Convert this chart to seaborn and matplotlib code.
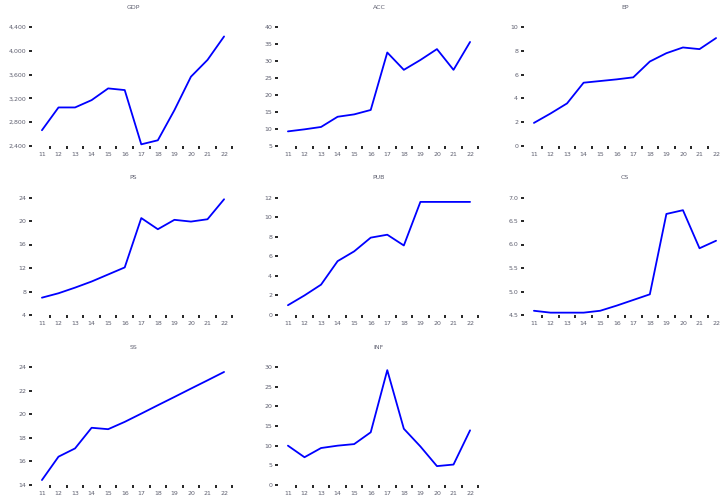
import numpy as np
import pandas as pd
import matplotlib
matplotlib.use("Agg")
import matplotlib.pyplot as plt
import seaborn as sns

sns.set_style("white")
plt.rcParams['font.family'] = ['DejaVu Sans']

years = ["11", "12", "13", "14", "15", "16", "17", "18", "19", "20", "21", "22"]

gdp = [2665, 3048, 3048, 3171, 3368, 3340, 2428, 2496, 3002, 3565, 3847, 4241]
acc = [9.3, 9.9, 10.6, 13.6, 14.3, 15.6, 32.5, 27.4, 30.3, 33.5, 27.4, 35.6]
ep = [1.94, 2.73, 3.58, 5.32, 5.46, 5.60, 5.77, 7.10, 7.80, 8.28, 8.14, 9.07]
ps = [6.95, 7.7, 8.66, 9.7, 10.9, 12.1, 20.5, 18.6, 20.2, 19.9, 20.3, 23.7]
pub = [1.0, 2.0, 3.1, 5.5, 6.5, 7.9, 8.2, 7.1, 11.55, 11.55, 11.55, 11.55]
cs = [4.59, 4.55, 4.55, 4.55, 4.59, 4.70, 4.82, 4.94, 6.65, 6.73, 5.92, 6.08]
ss = [14.42, 16.4, 17.1, 18.85, 18.73, 19.35, 20.05, 20.76, 21.46, 22.17, 22.87, 23.58]
inf = [10.0, 7.06, 9.4, 10.0, 10.4, 13.4, 29.2, 14.3, 9.8, 4.8, 5.2, 13.9]

panels = [
    ("GDP", gdp, [2400, 2800, 3200, 3600, 4000, 4400], "{:,.0f}"),
    ("ACC", acc, [5, 10, 15, 20, 25, 30, 35, 40], "{:.0f}"),
    ("EP", ep, [0, 2, 4, 6, 8, 10], "{:.0f}"),
    ("PS", ps, [4, 8, 12, 16, 20, 24], "{:.0f}"),
    ("PUB", pub, [0, 2, 4, 6, 8, 10, 12], "{:.0f}"),
    ("CS", cs, [4.5, 5.0, 5.5, 6.0, 6.5, 7.0], "{:.1f}"),
    ("SS", ss, [14, 16, 18, 20, 22, 24], "{:.0f}"),
    ("INF", inf, [0, 5, 10, 15, 20, 25, 30], "{:.0f}"),
]

W, H = 722, 499
fig = plt.figure(figsize=(W / 100, H / 100), dpi=100)

col_left = [32, 278, 524]
col_width = 202
row_top = [27, 197.5, 367]
row_bottom = [146, 315, 485]

text_color = "#5f6070"
pos = np.arange(len(years))

for i, (name, vals, yt, fmt) in enumerate(panels):
    r, c = divmod(i, 3)
    left = col_left[c] / W
    bottom = (H - row_bottom[r]) / H
    width = col_width / W
    height = (row_bottom[r] - row_top[r]) / H
    ax = fig.add_axes([left, bottom, width, height])
    df = pd.DataFrame({"x": pos, "y": vals})
    sns.lineplot(data=df, x="x", y="y", ax=ax, color="#0000ff", linewidth=1.3)
    ax.set_xlim(-0.6, len(years) - 0.4)
    ax.set_ylim(yt[0], yt[-1])
    ax.set_yticks(yt)
    ax.set_yticklabels([fmt.format(v) for v in yt])
    ax.set_xticks(pos)
    ax.set_xticklabels(years)
    ax.set_xticks(pos + 0.5, minor=True)
    ax.tick_params(which="both", bottom=True, left=True, top=False, right=False)
    ax.tick_params(axis="x", which="major", length=0, pad=4, labelsize=4.5, labelcolor=text_color)
    ax.tick_params(axis="x", which="minor", length=2, width=1.2, color="black", direction="out")
    ax.tick_params(axis="y", which="major", length=2.2, width=1.2, color="black", direction="out",
                   pad=2, labelsize=4.5, labelcolor=text_color)
    for s in ax.spines.values():
        s.set_visible(False)
    ax.set_xlabel("")
    ax.set_ylabel("")
    ax.set_title(name, fontsize=4.5, color=text_color, pad=13)

fig.savefig("out.png", dpi=100)
